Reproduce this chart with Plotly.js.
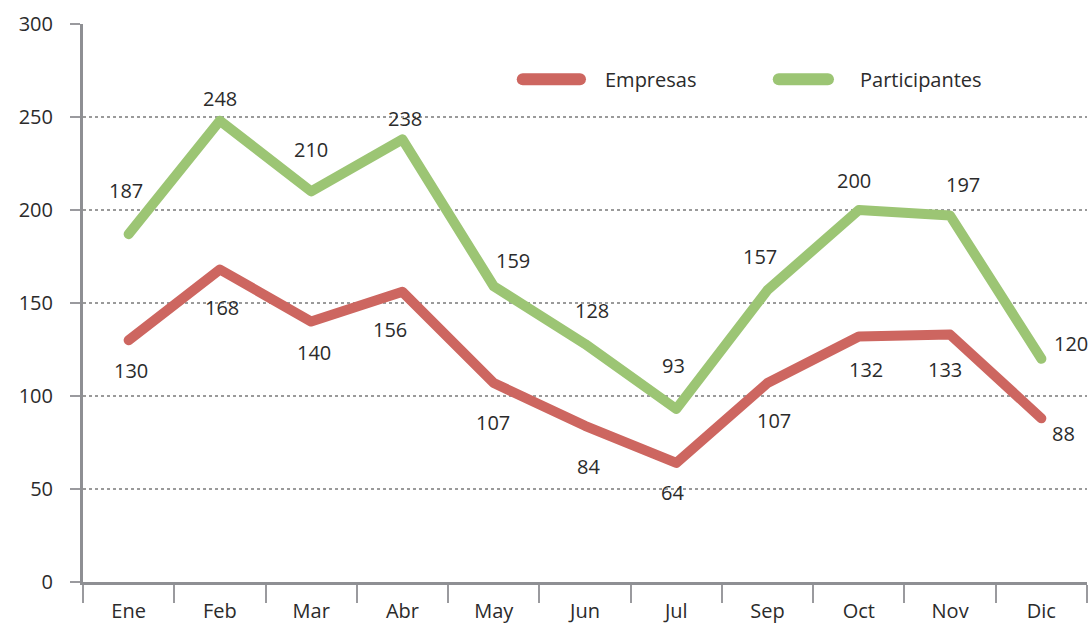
<!DOCTYPE html>
<html>
<head>
<meta charset="utf-8">
<script src="https://cdn.plot.ly/plotly-3.0.1.min.js"></script>
<style>
  html, body { margin: 0; padding: 0; background: #fff; }
  #chart { width: 1091px; height: 626px; }
  .scatterlayer path.js-line { stroke-linejoin: round; stroke-linecap: round; }
  .shapelayer path { stroke-linecap: round; }
</style>
</head>
<body>
<div id="chart"></div>
<script>
const months = ["Ene", "Feb", "Mar", "Abr", "May", "Jun", "Jul", "Sep", "Oct", "Nov", "Dic"];
const empresas = [130, 168, 140, 156, 107, 84, 64, 107, 132, 133, 88];
const participantes = [187, 248, 210, 238, 159, 128, 93, 157, 200, 197, 120];
const yTicks = [0, 50, 100, 150, 200, 250, 300];

// label offsets in pixels (dx right, dy up)
const empOffX = [2, 2, 3, -12, -1, 3, -4, 6, 7, -5, 22];
const empOffY = [-30, -38, -31, -38, -40, -41, -30, -38, -33, -35, -15];
const parOffX = [-3, 0, 0, 3, 19, 7, -3, -8, -5, 13, 30];
const parOffY = [44, 22, 42, 21, 26, 33, 44, 33, 30, 31, 15];

const red = "#CD6660";
const green = "#9CC574";
const txt = "#2b2b2b";
const font = "Open Sans, sans-serif";
const fs = 20;

const traces = [
  { x: months, y: empresas, type: "scatter", mode: "lines", name: "Empresas",
    line: { color: red, width: 10 }, hoverinfo: "none" },
  { x: months, y: participantes, type: "scatter", mode: "lines", name: "Participantes",
    line: { color: green, width: 10 }, hoverinfo: "none" }
];

const annotations = [];
months.forEach((m, i) => {
  annotations.push({ x: m, y: empresas[i], text: String(empresas[i]), showarrow: false,
    xshift: empOffX[i], yshift: empOffY[i], font: { family: font, size: fs, color: txt } });
  annotations.push({ x: m, y: participantes[i], text: String(participantes[i]), showarrow: false,
    xshift: parOffX[i], yshift: parOffY[i], font: { family: font, size: fs, color: txt } });
});
annotations.push({ xref: "paper", yref: "paper", x: 0.518, y: 0.901, xanchor: "left", yanchor: "middle",
  text: "Empresas", showarrow: false, font: { family: font, size: fs, color: txt } });
annotations.push({ xref: "paper", yref: "paper", x: 0.772, y: 0.901, xanchor: "left", yanchor: "middle",
  text: "Participantes", showarrow: false, font: { family: font, size: fs, color: txt } });

const shapes = [
  { type: "line", xref: "paper", yref: "paper", x0: 0.438, x1: 0.495, y0: 0.901, y1: 0.901,
    line: { color: red, width: 12 } },
  { type: "line", xref: "paper", yref: "paper", x0: 0.693, x1: 0.742, y0: 0.901, y1: 0.901,
    line: { color: green, width: 12 } }
];

const layout = {
  width: 1091, height: 626,
  margin: { l: 83, r: 4, t: 24, b: 44 },
  paper_bgcolor: "#fff", plot_bgcolor: "#fff",
  showlegend: false,
  font: { family: font, size: fs, color: txt },
  xaxis: {
    type: "category", range: [-0.5, 10.5], tickson: "boundaries",
    ticks: "outside", ticklen: 18, tickwidth: 2, tickcolor: "#9a9a9e",
    showline: true, linecolor: "#8e8f93", linewidth: 3,
    showgrid: false, zeroline: false, ticklabelstandoff: 9,
    tickfont: { family: font, size: fs, color: txt }
  },
  yaxis: {
    range: [0, 300], tickvals: yTicks, ticktext: yTicks.map(String),
    ticks: "outside", ticklen: 10, tickwidth: 2, tickcolor: "#9a9a9e",
    showline: true, linecolor: "#8e8f93", linewidth: 3,
    showgrid: true, gridcolor: "#9a9a9a", gridwidth: 1.5, griddash: "dot",
    zeroline: false, ticklabelstandoff: 13,
    tickfont: { family: font, size: fs, color: txt }
  },
  annotations: annotations,
  shapes: shapes
};

Plotly.newPlot("chart", traces, layout, { displayModeBar: false, staticPlot: true });
</script>
</body>
</html>
